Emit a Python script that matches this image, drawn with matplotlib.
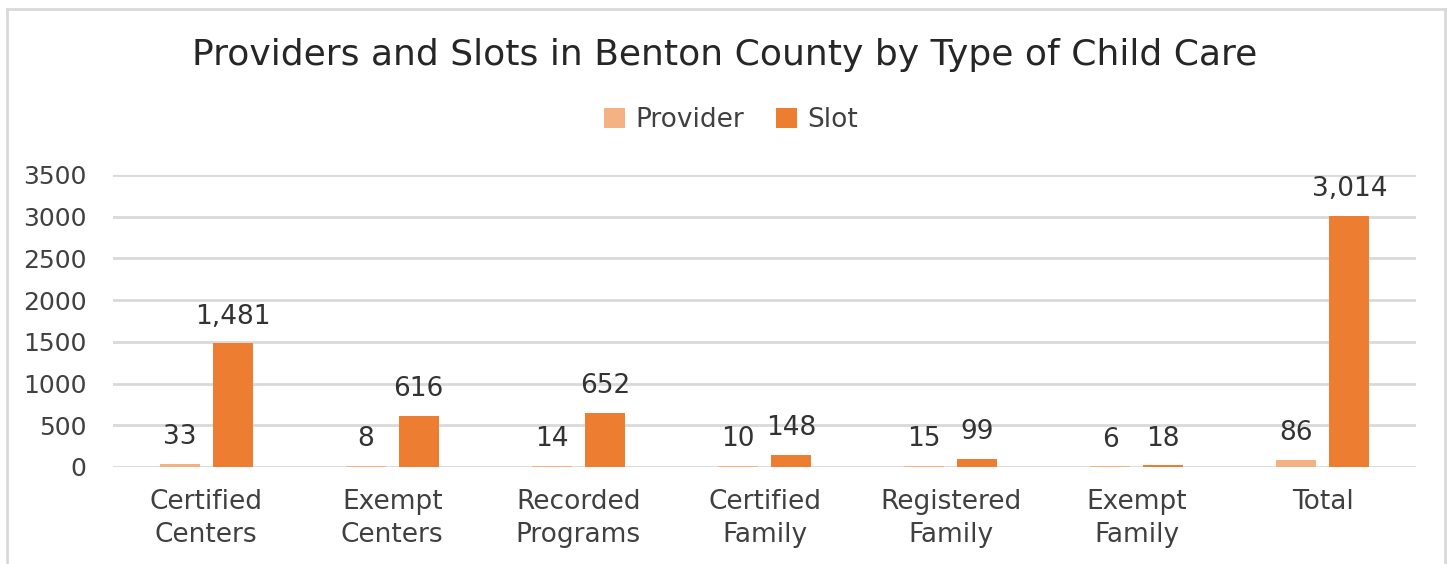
import matplotlib
matplotlib.use("Agg")
import matplotlib.pyplot as plt
import numpy as np
from matplotlib.lines import Line2D

categories = ["Certified\nCenters", "Exempt\nCenters", "Recorded\nPrograms",
              "Certified\nFamily", "Registered\nFamily", "Exempt\nFamily", "Total"]
providers = [33, 8, 14, 10, 15, 6, 86]
slots = [1481, 616, 652, 148, 99, 18, 3014]
series_names = ["Provider", "Slot"]
yticks = [0, 500, 1000, 1500, 2000, 2500, 3000, 3500]

W, H = 1447, 564
plt.rcParams['font.family'] = ['DejaVu Sans']
fig = plt.figure(figsize=(W / 100, H / 100), dpi=100)
fig.patch.set_facecolor("white")

# outer border
bc = "#d9d9d9"
x0, x1 = 7 / W, 1445 / W
y1 = 1 - 9 / H
for xs, ys in [([x0, x0], [-0.01, y1]), ([x0, x1], [y1, y1]), ([x1, x1], [y1, -0.01])]:
    fig.add_artist(Line2D(xs, ys, transform=fig.transFigure, color=bc, lw=2))

ax = fig.add_axes([113 / W, 1 - 467 / H, (1416 - 113) / W, (467 - 175) / H])
x = np.arange(len(categories))
bw = 0.215
off = 0.1425
c_prov = "#F4B183"
c_slot = "#ED7D31"
b1 = ax.bar(x - off, providers, bw, color=c_prov, label=series_names[0], zorder=3)
b2 = ax.bar(x + off, slots, bw, color=c_slot, label=series_names[1], zorder=3)

txt = "#333333"
ax.bar_label(b1, labels=[f"{v:,}" for v in providers], padding=10, fontsize=19, color=txt)
ax.bar_label(b2, labels=[f"{v:,}" for v in slots], padding=10, fontsize=19, color=txt)

ax.set_xlim(-0.5, len(categories) - 0.5)
ax.set_ylim(0, 3500)
ax.set_yticks(yticks)
ax.set_yticklabels([str(t) for t in yticks], fontsize=18, color="#404040")
ax.set_xticks(x)
ax.set_xticklabels(categories, fontsize=19, color="#404040", linespacing=1.35)
ax.tick_params(axis="both", length=0)
ax.tick_params(axis="y", pad=19)
ax.tick_params(axis="x", pad=16)
for s in ax.spines.values():
    s.set_visible(False)
ax.yaxis.grid(True, color="#d9d9d9", lw=2, zorder=0)
ax.set_axisbelow(True)

fig.text(725 / W, 1 - 55 / H, "Providers and Slots in Benton County by Type of Child Care",
         ha="center", va="center", fontsize=26, color="#262626")
fig.legend(handles=[b1, b2], labels=series_names, loc="center", bbox_to_anchor=(731 / W, 1 - 120 / H),
           ncol=2, frameon=False, fontsize=19, handlelength=0.8, handleheight=0.8,
           columnspacing=1.2, handletextpad=0.4, labelcolor="#404040")

fig.savefig("out.png", dpi=100, facecolor="white")
